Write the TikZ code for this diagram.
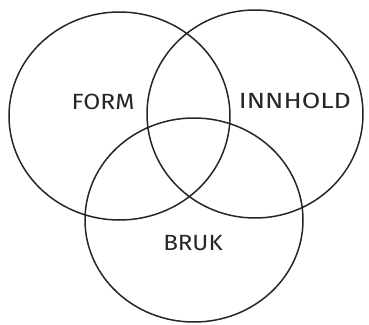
\documentclass[tikz,border=0pt]{standalone}
\usepackage{fontspec}
\setmainfont{Fira Sans}
\begin{document}
\begin{tikzpicture}[x=1pt,y=-1pt,
  ring/.style={draw=black!85,line width=1.5pt},
  lbl/.style={font=\fontsize{22}{26}\selectfont,text=black!85,inner sep=0pt}]
\useasboundingbox (0,0) rectangle (369,324);
\draw[ring] (119.5,116) ellipse [x radius=110.5,y radius=104];
\draw[ring] (255,114) ellipse [x radius=108,y radius=104];
\draw[ring] (194,220) ellipse [x radius=109,y radius=102];
\node[lbl] (form) at (103,102) {\scalebox{1.12}[1]{FORM}};
\node[lbl] (innhold) at (295,101) {\scalebox{1.22}[1]{INNHOLD}};
\node[lbl] (bruk) at (193,243) {\scalebox{1.1}[1]{BRUK}};
\end{tikzpicture}
\end{document}
